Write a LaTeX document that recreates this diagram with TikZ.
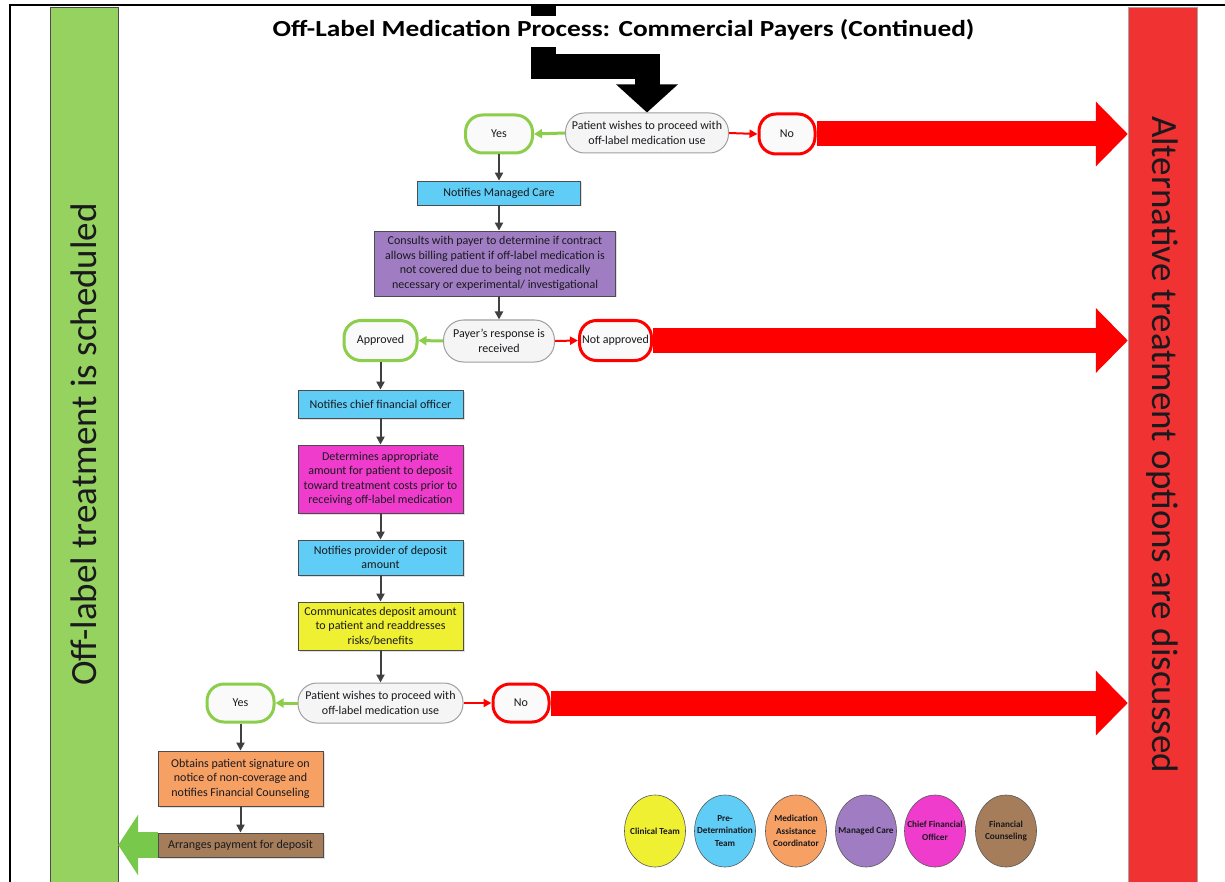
\documentclass[tikz,border=0pt]{standalone}
\usepackage{fontspec}
\setmainfont{Carlito}
\usetikzlibrary{arrows.meta,shadows,shapes.geometric,calc}
\definecolor{gbarc}{RGB}{150,210,95}
\definecolor{rbarc}{RGB}{240,50,50}
\definecolor{bigred}{RGB}{255,0,0}
\definecolor{biggreen}{RGB}{120,200,75}
\definecolor{yesc}{RGB}{140,205,75}
\definecolor{bluec}{RGB}{95,205,245}
\definecolor{purplec}{RGB}{160,125,195}
\definecolor{pinkc}{RGB}{240,60,205}
\definecolor{yellowc}{RGB}{240,240,50}
\definecolor{orangec}{RGB}{247,160,100}
\definecolor{brownc}{RGB}{165,125,90}
\definecolor{connc}{RGB}{64,64,64}
\definecolor{txtc}{RGB}{25,25,30}
\newcommand\myfont{\fontsize{12}{14.5}\selectfont}
\begin{document}
\begin{tikzpicture}[x=1pt,y=-1pt,
  every node/.style={text=txtc},
  base/.style={inner sep=0pt, align=center, font=\myfont},
  decision/.style={base, draw=gray!75, fill=gray!8, line width=1pt, rounded corners=19pt},
  yesbox/.style={base, draw=yesc, fill=gray!4, line width=3pt, rounded corners=17pt},
  nobox/.style={base, draw=bigred, fill=gray!4, line width=3pt, rounded corners=17pt},
  proc/.style={base, draw=gray!60!black, line width=0.8pt, drop shadow={shadow xshift=1.5pt, shadow yshift=-1.5pt, opacity=0.25}},
  legend/.style={ellipse, inner sep=-8pt, minimum width=61pt, minimum height=72pt, draw=gray!70!black, line width=0.6pt, align=center, font=\bfseries\fontsize{9.2}{12.5}\selectfont},
  conn/.style={draw=connc, line width=2pt, -{Triangle[length=8pt,width=8pt]}},
  gconn/.style={draw=yesc, line width=3pt, -{Triangle[length=8pt,width=9pt]}},
  rconn/.style={draw=bigred, line width=2pt, -{Triangle[length=8pt,width=8pt]}},
  bigredarrow/.style={draw=bigred, line width=25pt, -{Triangle[length=32pt,width=63pt]}},
  biggreenarrow/.style={draw=biggreen, line width=26pt, -{Triangle[length=20pt,width=60pt]}}
]
\useasboundingbox (0,0) rectangle (1225,882);
\fill[white] (0,0) rectangle (1225,882);
\draw[line width=2pt] (10,882) -- (10,5) -- (1225,5);

% side bars
\node[draw=gray!60!black, fill=gbarc, minimum width=68pt, minimum height=875pt, inner sep=0pt] (gbar) at (84,444.5) {};
\node[rotate=90, font=\fontsize{37}{37}\selectfont] (gtext) at (gbar.center) {Off-label treatment is scheduled};
\node[draw=gray!70, fill=rbarc, minimum width=69pt, minimum height=875pt, inner sep=0pt] (rbar) at (1162.5,444.5) {};
\node[rotate=-90, font=\fontsize{37}{37}\selectfont] (rtext) at (rbar.center) {Alternative treatment options are discussed};

% flow nodes
\node[decision, minimum width=163pt, minimum height=40pt] (dec1) at (647,133) {Patient wishes to proceed with\\off-label medication use};
\node[yesbox, minimum width=67pt, minimum height=38pt] (yes1) at (499,134) {Yes};
\node[nobox, minimum width=56pt, minimum height=40pt] (no1) at (787,134) {No};
\node[proc, fill=bluec, minimum width=163pt, minimum height=24pt] (mc) at (499,193) {Notifies Managed Care};
\node[proc, fill=purplec, minimum width=241pt, minimum height=65pt] (cons) at (495,263.5) {Consults with payer to determine if contract\\allows billing patient if off-label medication is\\not covered due to being not medically\\necessary or experimental/ investigational};
\node[decision, minimum width=111pt, minimum height=42pt, rounded corners=20pt] (dec2) at (499,341) {Payer's response is\\received};
\node[yesbox, minimum width=73pt, minimum height=40pt] (appr) at (380.5,340.5) {Approved};
\node[nobox, minimum width=72pt, minimum height=40pt] (napp) at (615.5,340.5) {Not approved};
\node[proc, fill=bluec, minimum width=165pt, minimum height=28pt] (cfo) at (380.5,404) {Notifies chief financial officer};
\node[proc, fill=pinkc, minimum width=165pt, minimum height=68pt] (det) at (380.5,479) {Determines appropriate\\amount for patient to deposit\\toward treatment costs prior to\\receiving off-label medication};
\node[proc, fill=bluec, minimum width=165pt, minimum height=35pt] (prov) at (380.5,557.5) {Notifies provider of deposit\\amount};
\node[proc, fill=yellowc, minimum width=165pt, minimum height=48pt] (comm) at (380.5,626) {Communicates deposit amount\\to patient and readdresses\\risks/benefits};
\node[decision, minimum width=165pt, minimum height=40pt] (dec3) at (380.5,703) {Patient wishes to proceed with\\off-label medication use};
\node[yesbox, minimum width=67pt, minimum height=38pt] (yes3) at (240.5,703) {Yes};
\node[nobox, minimum width=56pt, minimum height=38pt] (no3) at (521,703) {No};
\node[proc, fill=orangec, minimum width=165pt, minimum height=55pt] (obt) at (240.5,778.5) {Obtains patient signature on\\notice of non-coverage and\\notifies Financial Counseling};
\node[proc, fill=brownc, minimum width=165pt, minimum height=24pt] (arr) at (240.5,845) {Arranges payment for deposit};

% big arrows
\draw[bigredarrow] (no1.east) -- (no1.east -| rbar.west);
\draw[bigredarrow] (napp.east) -- (napp.east -| rbar.west);
\draw[bigredarrow] (no3.east) -- (no3.east -| rbar.west);
\draw[biggreenarrow] (arr.west) -- (arr.west -| gbar.east);

% black entry arrow
\coordinate (btop) at (543.5,5);
\draw[line width=25pt, line join=miter, -{Triangle[length=28pt,width=60pt]}] (btop) |- ($(dec1.north)+(0,-45.5)$) -- (dec1.north);
\node[fill=white, inner xsep=2pt, inner ysep=4pt, text height=17pt, text depth=6pt, anchor=base, font=\bfseries\fontsize{23}{25}\selectfont, text=black] (title) at (623.5,36.7) {\scalebox{1.19}[1]{Off-Label Medication Process: Commercial Payers (Continued)}};

% connectors
\draw[gconn] (dec1.west) -- (yes1.east);
\draw[rconn] (dec1.east) -- (no1.west);
\draw[conn] (yes1.south) -- (mc.north);
\draw[conn] (mc.south) -- (mc.south |- cons.north);
\draw[conn] (cons.south -| dec2.north) -- (dec2.north);
\draw[gconn] (dec2.west) -- (appr.east);
\draw[rconn] (dec2.east) -- (napp.west);
\draw[conn] (appr.south) -- (cfo.north);
\draw[conn] (cfo.south) -- (det.north);
\draw[conn] (det.south) -- (prov.north);
\draw[conn] (prov.south) -- (comm.north);
\draw[conn] (comm.south) -- (dec3.north);
\draw[gconn] (dec3.west) -- (yes3.east);
\draw[rconn] (dec3.east) -- (no3.west);
\draw[conn] (yes3.south) -- (obt.north);
\draw[conn] (obt.south) -- (arr.north);

% legend
\node[legend, fill=yellowc] (lg1) at (655,831) {Clinical Team};
\node[legend, fill=bluec] (lg2) at (725,831) {Pre-\\Determination\\Team};
\node[legend, fill=orangec] (lg3) at (796,831) {Medication\\Assistance\\Coordinator};
\node[legend, fill=purplec] (lg4) at (866,831) {Managed Care};
\node[legend, fill=pinkc] (lg5) at (935,831) {Chief Financial\\Officer};
\node[legend, fill=brownc] (lg6) at (1006,831) {Financial\\Counseling};
\end{tikzpicture}
\end{document}
